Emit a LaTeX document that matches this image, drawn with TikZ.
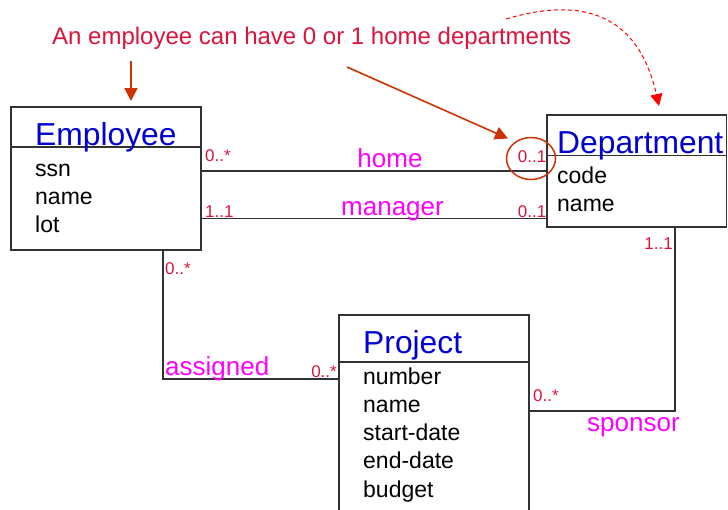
\documentclass[tikz,border=0pt]{standalone}
\usepackage{fontspec}
\setmainfont{Liberation Sans}
\usetikzlibrary{arrows.meta,shapes.geometric}

\definecolor{clsblue}{RGB}{0,0,210}
\definecolor{multred}{RGB}{220,20,60}
\definecolor{rolemag}{RGB}{255,0,255}
\definecolor{notered}{RGB}{204,51,0}
\definecolor{edgegray}{RGB}{50,50,50}

\tikzset{
  classbox/.style={draw=edgegray, line width=1.4pt, inner sep=0pt, rectangle},
  divider/.style={draw=edgegray, line width=1.4pt},
  assoc/.style={draw=edgegray, line width=1.4pt},
  clsname/.style={inner sep=0pt, text=clsblue, font=\fontsize{31.8}{32}\selectfont},
  attr/.style={inner sep=0pt, anchor=base west, font=\fontsize{23}{23}\selectfont},
  mult/.style={inner sep=0pt, text=multred, font=\fontsize{17}{17}\selectfont},
  role/.style={inner sep=0pt, text=rolemag, font=\fontsize{26}{26}\selectfont},
  note/.style={inner sep=0pt, text=multred, font=\fontsize{24}{24}\selectfont},
  notearrow/.style={draw=notered, line width=1.6pt, -{Triangle[length=13pt,width=13pt]}},
  hintarrow/.style={draw=red, line width=1pt, dash pattern=on 4pt off 3pt,
                    -{Triangle[length=12pt,width=12pt]}},
}

\begin{document}
\begin{tikzpicture}[x=1pt,y=-1pt]
\useasboundingbox (0,0) rectangle (728,509);
\clip (0,0) rectangle (728,509);

% class boxes
\node[classbox, minimum width=190pt, minimum height=143pt] (emp) at (106,178.5) {};
\node[classbox, minimum width=179.5pt, minimum height=112pt] (dept) at (636.75,171) {};
\node[classbox, minimum width=190pt, minimum height=230pt] (proj) at (434,430) {};

% header dividers
\coordinate (empdiv) at (0,147);
\coordinate (deptdiv) at (0,155.7);
\coordinate (projdiv) at (0,362);
\draw[divider] (emp.west |- empdiv) -- (emp.east |- empdiv);
\draw[divider] (dept.west |- deptdiv) -- (dept.east |- deptdiv);
\draw[divider] (proj.west |- projdiv) -- (proj.east |- projdiv);

% class names
\node[clsname, anchor=base west] (empname) at (35,145.5) {Employee};
\node[clsname, anchor=base west] (deptname) at (557,153) {Department};
\node[clsname, anchor=base west] (projname) at (363,353) {Project};

% attributes
\node[attr] (ea1) at (35,176.5) {ssn};
\node[attr] (ea2) at (35,204.5) {name};
\node[attr] (ea3) at (35,232.5) {lot};
\node[attr] (da1) at (557,183) {code};
\node[attr] (da2) at (557,211) {name};
\node[attr] (pa1) at (363,384) {number};
\node[attr] (pa2) at (363,412) {name};
\node[attr] (pa3) at (363,440) {start-date};
\node[attr] (pa4) at (363,468.5) {end-date};
\node[attr] (pa5) at (363,497) {budget};

% associations
\coordinate (homey) at (0,171);
\coordinate (mgry) at (0,218.5);
\coordinate (asgx) at (163,0);
\coordinate (asgy) at (0,379);
\coordinate (spox) at (675,0);
\coordinate (spoy) at (0,411);
\draw[assoc] (emp.east |- homey) -- (dept.west |- homey);
\draw[assoc] (emp.east |- mgry) -- (dept.west |- mgry);
\draw[assoc] (emp.south -| asgx) |- (proj.west |- asgy);
\draw[assoc] (dept.south -| spox) |- (proj.east |- spoy);

% multiplicities
\node[mult, anchor=base west] (m1) at (205,161.5) {0..*};
\node[mult, anchor=base east] (m2) at (546.5,162.5) {0..1};
\node[mult, anchor=base west] (m3) at (205,217.5) {1..1};
\node[mult, anchor=base east] (m4) at (546.5,217.5) {0..1};
\node[mult, anchor=base west] (m5) at (165,274) {0..*};
\node[mult, anchor=base east] (m6) at (673,249.5) {1..1};
\node[mult, anchor=base east] (m7) at (337,377.5) {0..*};
\node[mult, anchor=base west] (m8) at (533,401.5) {0..*};

% role names
\node[role, anchor=base] (rhome) at (390,167.5) {home};
\node[role, anchor=base] (rmgr) at (392.5,215) {manager};
\node[role, anchor=base west] (rasg) at (165,375.5) {assigned};
\node[role, anchor=base west] (rspo) at (587,431.5) {sponsor};

% annotation
\node[note, anchor=base west] (title) at (52,44) {An employee can have 0 or 1 home departments};
\coordinate (n1a) at (131,61);
\coordinate (n1b) at (131,101);
\draw[notearrow] (n1a) -- (n1b);
\coordinate (n2a) at (347,67);
\coordinate (n2b) at (508,138.5);
\draw[notearrow] (n2a) -- (n2b);
\node[ellipse, draw=notered, line width=1.5pt, minimum width=49pt, minimum height=42pt, inner sep=0pt]
  (ring) at (531,158.5) {};
\coordinate (h1) at (506,19);
\coordinate (h2) at (659,106);
\draw[hintarrow] (h1) .. controls (570,0) and (636,4) .. (h2);
\end{tikzpicture}
\end{document}
